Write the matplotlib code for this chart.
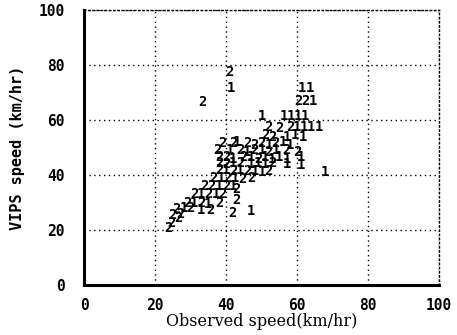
import numpy as np
import matplotlib
matplotlib.use("Agg")
import matplotlib.pyplot as plt

# observed speed, VIPS speed, plotted symbol (1 or 2)
obs = [40.8, 41.4, 33.2, 61.4, 63.7, 60.3, 62.3, 64.5,
       50.1, 56.3, 58.3, 60.3, 62.3,
       52, 55, 58, 60, 62, 64, 66,
       51, 53, 57, 59.5, 61.5,
       39, 42, 43, 46, 48, 50, 52, 54, 56, 58,
       37.5, 41, 44, 46, 48, 50, 52, 54, 57, 60,
       38, 40, 42, 45, 47, 49, 51, 53, 55, 57, 61,
       38, 40, 42, 44, 47, 49, 51, 53, 57, 61,
       38, 40, 42, 44, 46, 48, 50, 52, 67.9,
       36.5, 38.5, 40.5, 42.5, 44.5, 47,
       34, 36, 38, 40, 42, 43,
       31, 33, 35, 37, 39, 42.8,
       29, 31, 33, 35, 38,
       26, 28, 30, 33, 35.5, 41.7, 47,
       25, 27, 26.5, 23.7, 24.5]
vips = [77.5, 71.6, 66.5, 71.6, 71.6, 66.9, 66.9, 66.9,
        61.5, 61.5, 61.5, 61.5, 61.5,
        57.5, 57, 57.5, 57.5, 57.5, 57.5, 57.5,
        54.5, 54, 54, 54.5, 54,
        51.6, 51.5, 52, 51.5, 51, 51.5, 51, 51.5, 52, 51,
        49, 49, 49, 48.5, 49, 49, 48.5, 49, 49, 48.5,
        46.5, 46.5, 46, 46.5, 46.5, 46, 46.5, 46, 46.5, 46, 46.5,
        44.4, 44, 44.4, 44.4, 44, 44.4, 44, 44.4, 44, 43.5,
        42, 42, 41.5, 42, 41.5, 41.5, 41, 41.5, 41.1,
        39, 39, 39, 39, 38.5, 39,
        36, 36, 36, 36, 36, 35,
        33, 33, 33, 33, 33, 30.9,
        30, 30, 30, 29.5, 30,
        27.5, 28, 28, 27.3, 27.3, 26.2, 26.9,
        25.5, 26, 24.4, 20.7, 22.5]
sym = ['2', '1', '2', '1', '1', '2', '2', '1',
       '1', '1', '1', '1', '1',
       '2', '2', '2', '1', '1', '1', '1',
       '2', '2', '1', '1', '1',
       '2', '2', '1', '2', '2', '2', '1', '2', '1', '1',
       '2', '1', '2', '1', '2', '1', '2', '1', '2', '2',
       '2', '2', '1', '2', '1', '2', '1', '1', '1', '1', '1',
       '2', '2', '1', '2', '1', '1', '1', '2', '1', '1',
       '2', '1', '2', '1', '2', '1', '1', '2', '1',
       '2', '1', '2', '1', '2', '2',
       '2', '2', '1', '2', '1', '2',
       '2', '1', '2', '1', '2', '2',
       '2', '1', '2', '1', '2',
       '2', '1', '2', '1', '2', '2', '1',
       '2', '2', '2', '2', '2']

ticks = [0, 20, 40, 60, 80, 100]

fig = plt.figure(figsize=(4.57, 3.35), dpi=100)
ax = fig.add_axes([0.184, 0.149, 0.777, 0.821])
ax.set_xlim(0, 100)
ax.set_ylim(0, 100)

for x, y, s in zip(obs, vips, sym):
    ax.text(x, y, s, ha='center', va='center', fontsize=10,
            family='DejaVu Sans Mono', fontweight='bold', color='black')

ax.set_xticks(ticks)
ax.set_yticks(ticks)
ax.set_xticklabels([str(t) for t in ticks], family='DejaVu Sans Mono',
                   fontweight='bold', fontsize=10.5)
ax.set_yticklabels([str(t) for t in ticks], family='DejaVu Sans Mono',
                   fontweight='bold', fontsize=10.5)
ax.tick_params(axis='x', length=0, pad=9)
ax.tick_params(axis='y', length=0, pad=14)
ax.grid(True, color='black', linestyle=(0, (1, 2.5)), linewidth=1.0)

for side in ['top', 'right']:
    ax.spines[side].set_linestyle((0, (1, 2)))
    ax.spines[side].set_linewidth(1.0)
for side in ['left', 'bottom']:
    ax.spines[side].set_linewidth(2.2)

ax.set_xlabel("Observed speed(km/hr)", family='DejaVu Serif',
              fontsize=11.5, labelpad=0)
ax.set_ylabel("VIPS speed (km/hr)", family='DejaVu Sans Mono',
              fontweight='bold', fontsize=11, labelpad=10)

fig.savefig("out.png", dpi=100)
